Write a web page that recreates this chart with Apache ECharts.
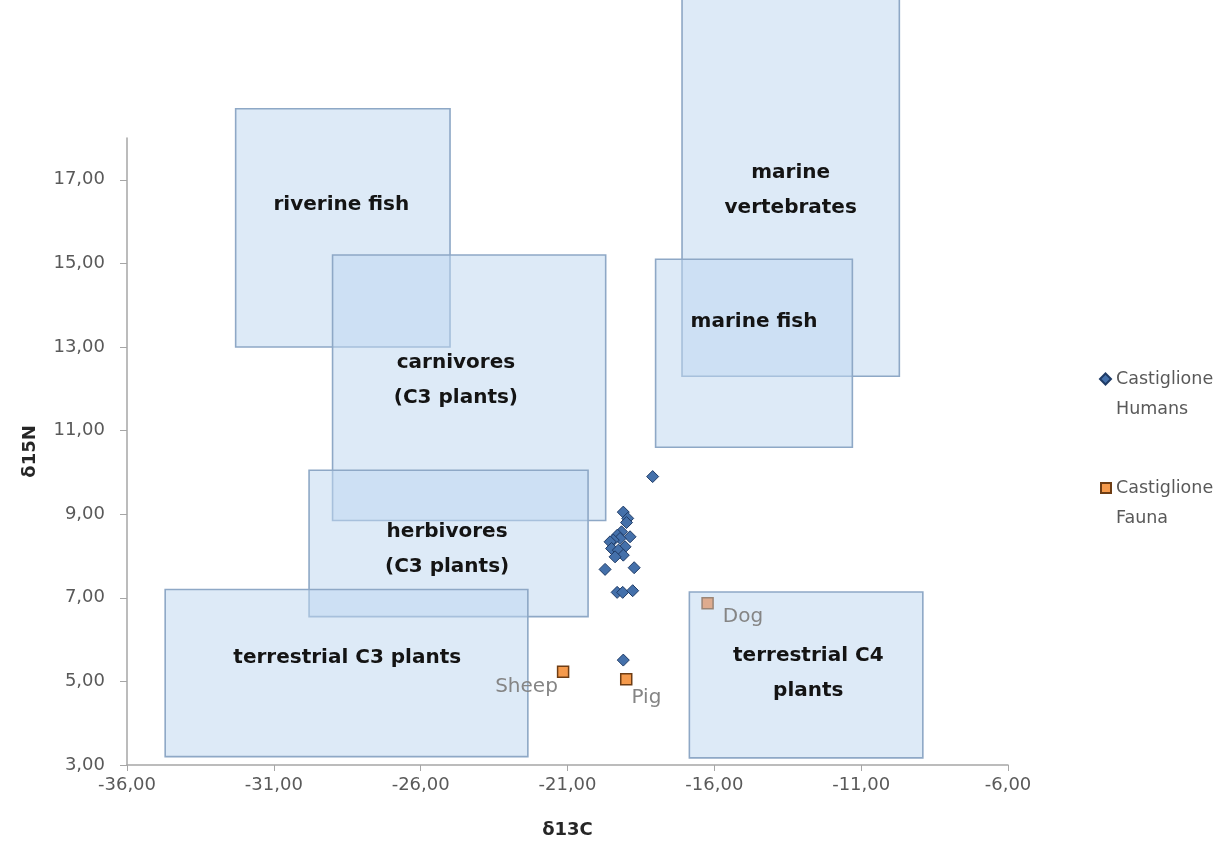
<!DOCTYPE html>
<html lang="en">
<head>
    <meta charset="UTF-8">
    <script src="https://cdn.jsdelivr.net/npm/echarts@6/dist/echarts.min.js"></script>
    <title>Castiglione isotopes</title>
    <style>
        * {
            margin: 0;
            padding: 0;
        }

        body {
            background: #ffffff;
        }

        #main {
            width: 1226px;
            height: 854px;
        }
    </style>
</head>
<body>
<div id="main"></div>
<script>
    // axis ticks
    var xTicks = [-36, -31, -26, -21, -16, -11, -6];
    var yTicks = [3, 5, 7, 9, 11, 13, 15, 17];

    // reference food groups: [d13C min, d13C max, d15N min, d15N max]
    var boxRanges = [
        [-32.3, -25.0, 13.0, 18.7],   // riverine fish
        [-29.0, -19.7, 8.85, 15.2],   // carnivores
        [-29.8, -20.3, 6.55, 10.05],  // herbivores
        [-34.7, -22.35, 3.2, 7.2],    // terrestrial C3
        [-17.1, -9.7, 12.3, 22.0],    // marine vertebrates
        [-18.0, -11.3, 10.6, 15.1],   // marine fish
        [-16.85, -8.9, 3.17, 7.14]    // terrestrial C4
    ];
    var boxLabels = [
        'riverine fish',
        'carnivores\n(C3 plants)',
        'herbivores\n(C3 plants)',
        'terrestrial C3 plants',
        'marine\nvertebrates',
        'marine fish',
        'terrestrial C4\nplants'
    ];
    var boxLabelAt = [
        [-28.7, 16.4],
        [-24.8, 12.2],
        [-25.1, 8.17],
        [-28.5, 5.56],
        [-13.4, 16.74],
        [-14.65, 13.6],
        [-12.8, 5.2]
    ];

    // Castiglione humans [d13C, d15N]
    var humans = [
        [-18.1, 9.9],
        [-19.1, 9.05],
        [-18.95, 8.9],
        [-18.99, 8.8],
        [-19.16, 8.58],
        [-19.3, 8.5],
        [-18.87, 8.46],
        [-19.21, 8.42],
        [-19.44, 8.38],
        [-19.55, 8.34],
        [-19.04, 8.22],
        [-19.5, 8.18],
        [-19.27, 8.14],
        [-19.1, 8.02],
        [-19.38, 7.98],
        [-19.72, 7.68],
        [-18.73, 7.72],
        [-19.31, 7.13],
        [-19.12, 7.13],
        [-18.78, 7.17],
        [-19.1, 5.51]
    ];

    // Castiglione fauna
    var faunaNames = ['Sheep', 'Pig', 'Dog'];
    var fauna = [
        [-21.15, 5.23],
        [-19.0, 5.05],
        [-16.23, 6.87]
    ];

    function fmt(v) {
        return v.toFixed(2).replace('.', ',');
    }

    var chartDom = document.getElementById('main');
    var myChart = echarts.init(chartDom);

    var faunaLabelStyle = [
        { position: 'left', offset: [6, 15] },
        { position: 'right', offset: [-6, 18] },
        { position: 'right', offset: [4, 14] }
    ];

    var faunaData = fauna.map(function (p, i) {
        var item = {
            name: faunaNames[i],
            value: p,
            label: {
                show: true,
                position: faunaLabelStyle[i].position,
                offset: faunaLabelStyle[i].offset,
                formatter: '{b}',
                fontFamily: 'DejaVu Sans',
                fontSize: 20,
                color: '#858585'
            }
        };
        if (faunaNames[i] === 'Dog') {
            item.itemStyle = { color: '#deab8e', borderColor: '#9a8576' };
        }
        return item;
    });

    var legendText = { color: '#595959', fontFamily: 'DejaVu Sans', fontSize: 17.5, lineHeight: 30 };

    var option = {
        animation: false,
        textStyle: { fontFamily: 'DejaVu Sans' },
        grid: {
            left: 127,
            right: 218,
            top: 138,
            bottom: 89
        },
        legend: [
            {
                data: ['Castiglione Humans'],
                left: 1099,
                top: 334,
                padding: 0,
                itemWidth: 11,
                itemHeight: 11,
                itemGap: 6,
                icon: 'diamond',
                formatter: function (name) { return '\u00a0\n' + name.replace(' ', '\n'); },
                textStyle: legendText
            },
            {
                data: ['Castiglione Fauna'],
                left: 1100,
                top: 443,
                padding: 0,
                itemWidth: 10,
                itemHeight: 10,
                itemGap: 7,
                icon: 'rect',
                formatter: function (name) { return '\u00a0\n' + name.replace(' ', '\n'); },
                textStyle: legendText
            }
        ],
        xAxis: {
            type: 'value',
            min: -36,
            max: -6,
            interval: 5,
            name: 'δ13C',
            nameLocation: 'middle',
            nameGap: 56,
            nameTextStyle: { fontSize: 18, fontWeight: 'bold', color: '#262626' },
            axisLine: { lineStyle: { color: '#a6a6a6', width: 1.5 } },
            axisTick: { length: 6, customValues: xTicks, lineStyle: { color: '#a6a6a6' } },
            axisLabel: { customValues: xTicks, formatter: fmt, color: '#595959', fontSize: 18, margin: 11 },
            splitLine: { show: false }
        },
        yAxis: {
            type: 'value',
            min: 3,
            max: 18,
            interval: 2,
            name: 'δ15N',
            nameLocation: 'middle',
            nameRotate: 90,
            nameGap: 88,
            nameTextStyle: { fontSize: 18, fontWeight: 'bold', color: '#262626' },
            axisLine: { show: true, lineStyle: { color: '#a6a6a6', width: 1.5 } },
            axisTick: { show: true, length: 7, customValues: yTicks, lineStyle: { color: '#a6a6a6' } },
            axisLabel: { customValues: yTicks, formatter: fmt, color: '#595959', fontSize: 18, margin: 22 },
            splitLine: { show: false }
        },
        series: [
            {
                name: 'groups',
                type: 'custom',
                clip: false,
                silent: true,
                z: 1,
                encode: { x: [0, 1], y: [2, 3] },
                data: boxRanges,
                renderItem: function (params, api) {
                    var a = api.coord([api.value(0), api.value(3)]);
                    var b = api.coord([api.value(1), api.value(2)]);
                    return {
                        type: 'rect',
                        shape: { x: a[0], y: a[1], width: b[0] - a[0], height: b[1] - a[1] },
                        style: {
                            fill: 'rgba(190, 214, 240, 0.52)',
                            stroke: '#8ea8c6',
                            lineWidth: 1.6
                        }
                    };
                }
            },
            {
                name: 'group labels',
                type: 'scatter',
                silent: true,
                z: 3,
                symbolSize: 0,
                itemStyle: { opacity: 1 },
                data: boxLabelAt.map(function (p, i) {
                    return { name: boxLabels[i], value: p };
                }),
                label: {
                    show: true,
                    position: 'inside',
                    formatter: '{b}',
                    fontFamily: 'DejaVu Sans',
                    fontSize: 20,
                    fontWeight: 'bold',
                    lineHeight: 35,
                    color: '#141414'
                }
            },
            {
                name: 'Castiglione Humans',
                type: 'scatter',
                z: 4,
                symbol: 'diamond',
                symbolSize: 12,
                itemStyle: { color: '#4470aa', borderColor: '#1f3b66', borderWidth: 1, opacity: 1 },
                data: humans
            },
            {
                name: 'Castiglione Fauna',
                type: 'scatter',
                z: 4,
                symbol: 'rect',
                symbolSize: 11,
                itemStyle: { color: '#f59a4c', borderColor: '#6e3d14', borderWidth: 1.5, opacity: 1 },
                data: faunaData
            }
        ]
    };

    option && myChart.setOption(option);
</script>
</body>
</html>
